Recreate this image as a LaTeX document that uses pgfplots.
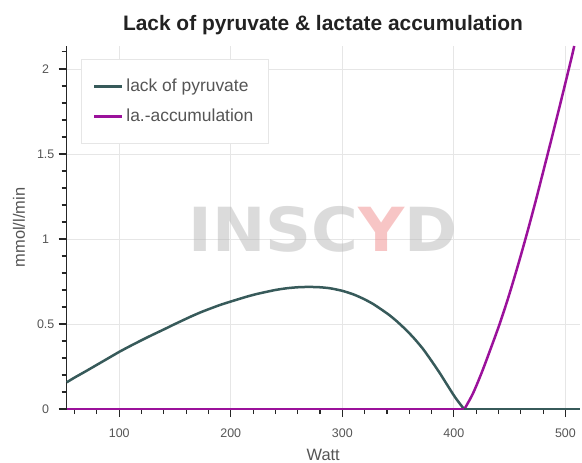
\documentclass[border=0pt]{standalone}
\usepackage{pgfplots}
\pgfplotsset{compat=1.18}
\usepackage{fontspec}
\setmainfont{Liberation Sans}
\newfontfamily\wmfont{DejaVu Sans}
\definecolor{pyr}{HTML}{375A5A}
\definecolor{lac}{HTML}{9B119B}
\definecolor{txt}{HTML}{555555}
\definecolor{ttl}{HTML}{222222}
\definecolor{gridc}{HTML}{E6E6E6}
\definecolor{wmg}{HTML}{B8B8B8}
\definecolor{wmr}{HTML}{F08C8C}

\pgfplotstableread{
W y
52.9 0.157
60 0.185
70 0.222
80 0.260
90 0.298
100 0.336
110 0.371
125 0.421
140 0.468
150 0.500
165 0.546
175 0.574
190 0.611
200 0.632
215 0.662
225 0.679
240 0.700
250 0.710
260 0.716
270 0.718
280 0.716
289 0.710
300 0.695
310 0.674
319 0.648
327 0.620
334 0.590
342 0.553
349 0.515
357 0.466
364 0.418
372 0.356
379 0.292
387 0.215
394 0.142
401 0.070
409 0.0
}\pyruvate

\pgfplotstableread{
W y
409 0.0
512.8 0.0
}\pyruvatezero

\pgfplotstableread{
W y
52.9 0
409.5 0
}\lactatezero

\pgfplotstableread{
W y
409.5 0
417 0.09
425 0.215
433 0.355
441 0.50
449 0.66
457 0.835
465 1.02
473 1.215
481 1.42
489 1.627
497 1.838
505 2.053
507.9 2.135
}\lactate

\begin{document}
\begin{tikzpicture}
\begin{axis}[
  at={(0,0)}, anchor=south west,
  scale only axis, width=513bp, height=363bp,
  xmin=52.9, xmax=512.8, ymin=0, ymax=2.135,
  clip=false,
  axis lines*=left,
  axis line style={draw=black!85, line width=1bp},
  xtick={100,200,300,400,500},
  ytick={0,0.5,1,1.5,2},
  minor xtick={60,80,...,500},
  minor ytick={0.1,0.2,0.3,0.4,0.6,0.7,0.8,0.9,1.1,1.2,1.3,1.4,1.6,1.7,1.8,1.9,2.1},
  tick align=outside,
  major tick length=8bp, minor tick length=5bp,
  tick style={draw=black!85, line width=1.1bp},
  grid=major,
  major grid style={draw=gridc, line width=0.9bp},
  minor grid style={draw=none},
  /pgf/number format/assume math mode=true,
  ticklabel style={font=\fontsize{12.5}{14}\selectfont, text=txt},
  yticklabel style={anchor=center, xshift=-13bp},
  xticklabel style={anchor=center, yshift=-16bp},
  xlabel={Watt},
  ylabel={mmol/l/min},
  label style={font=\fontsize{16.5}{18}\selectfont, text=txt},
  xlabel style={at={(axis description cs:0.5,-0.127)}, anchor=center},
  ylabel style={at={(axis description cs:-0.093,0.5)}, anchor=center},
  legend style={at={(0.0273,0.963)}, anchor=north west, draw=gridc, fill=white,
    font=\fontsize{17.5}{20}\selectfont, text=txt,
    inner xsep=12bp, inner ysep=17bp, row sep=11bp,
    nodes={inner sep=2.5bp}},
  legend cell align=left,
  legend image code/.code={\draw[#1, line width=3bp] (0bp,0bp) -- (28bp,0bp);},
]
\node[text opacity=0.5, font=\wmfont\bfseries\fontsize{61}{61}\selectfont, xscale=1.05, inner sep=0pt]
  at (axis cs:282.6,1.059) {\textcolor{wmg}{INSC}\textcolor{wmr}{Y}\textcolor{wmg}{D}};
\addplot[pyr, line width=2.5bp, smooth, tension=0.4] table[x=W, y=y] {\pyruvate};
\addlegendentry{lack of pyruvate}
\addplot[lac, line width=2.5bp, smooth, tension=0.5] table[x=W, y=y] {\lactate};
\addlegendentry{la.-accumulation}
\addplot[pyr, line width=2.5bp, forget plot] table[x=W, y=y] {\pyruvatezero};
\addplot[lac, line width=1.5bp, forget plot] table[x=W, y=y] {\lactatezero};
\node[anchor=base, font=\bfseries\fontsize{21}{24}\selectfont, text=ttl]
  at (axis description cs:0.4996,1.044) {Lack of pyruvate \& lactate accumulation};
\end{axis}
\pgfresetboundingbox
\path[use as bounding box] (-66.7bp,-54bp) rectangle (515.3bp,409bp);
\end{tikzpicture}
\end{document}
